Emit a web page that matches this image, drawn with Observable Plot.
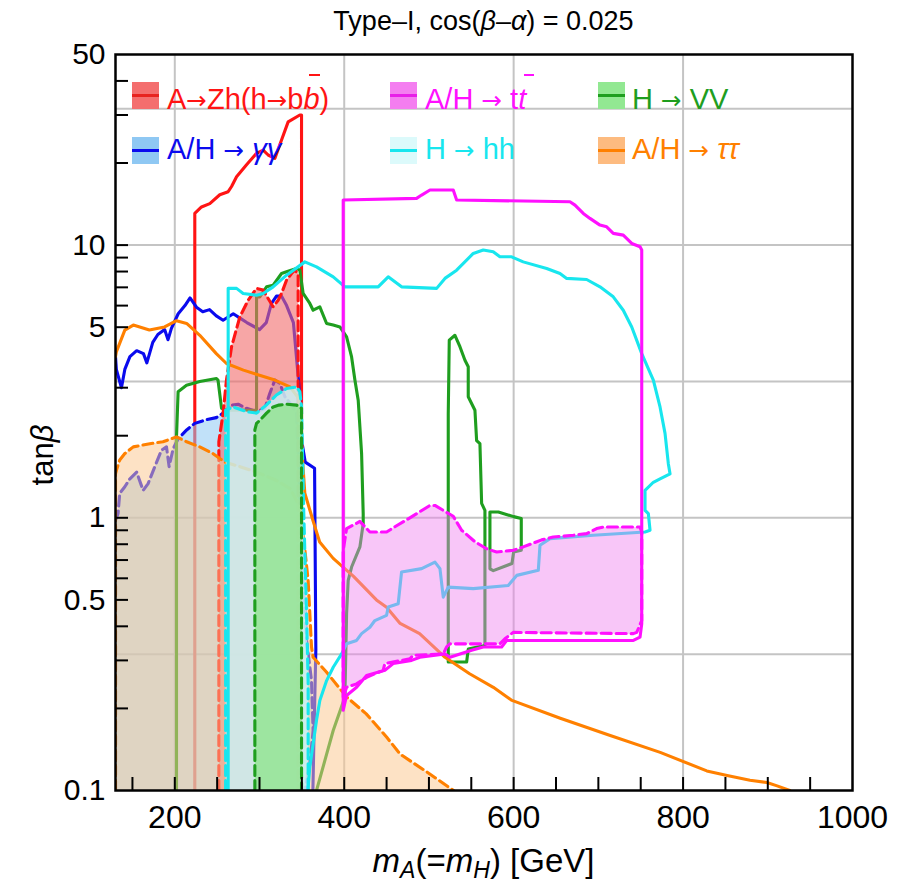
<!DOCTYPE html>
<html><head><meta charset="utf-8">
<script src="https://cdn.jsdelivr.net/npm/d3@7"></script>
<script src="https://cdn.jsdelivr.net/npm/@observablehq/plot@0.6"></script>
<style>
body{margin:0;background:#fff;}
#wrap{position:relative;width:907px;height:890px;font-family:"Liberation Sans",Arial,sans-serif;color:#000;}
#chart{position:absolute;left:0;top:0;}
.t{position:absolute;white-space:nowrap;line-height:1;}
#title{left:115px;width:737px;text-align:center;top:8px;font-size:27px;}
#xlab{left:115px;width:737px;text-align:center;top:844px;font-size:33px;}
#ylab{left:42px;top:455px;font-size:31px;transform:translate(-50%,-50%) rotate(-90deg);}
.sw{position:absolute;width:27px;height:27px;}
.sw i{position:absolute;left:0;right:0;top:12px;height:3px;}
.lt{position:absolute;font-size:29px;line-height:1;white-space:nowrap;}
.ar{font-family:"DejaVu Sans",sans-serif;font-size:0.85em;}
.bar{position:relative;font-style:italic;}
.bar::after{content:"";position:absolute;left:0.2em;width:0.36em;top:-0.3em;height:2px;background:currentColor;}
sub{font-size:70%;vertical-align:-0.25em;}
</style></head>
<body>
<div id="wrap">
  <div id="chart"></div>
  <div class="t" id="title">Type–I, cos(<i>β</i>–<i>α</i>) = 0.025</div>
  <div class="t" id="ylab">tan<i>β</i></div>
  <div class="t" id="xlab"><i>m</i><sub><i>A</i></sub>(=<i>m</i><sub><i>H</i></sub>) [GeV]</div>

  <div class="sw" style="left:132px;top:82px;background:#f46e6e"><i style="background:#e8231f"></i></div>
  <div class="lt" style="left:167px;top:85px;color:#ff1414">A<span class="ar">→</span>Zh(h<span class="ar">→</span>b<span class="bar">b</span>)</div>
  <div class="sw" style="left:132px;top:137px;background:#8fc8f3"><i style="background:#0a0aee"></i></div>
  <div class="lt" style="left:167px;top:135px;color:#0a0aee">A/H <span class="ar">→</span> <i>γγ</i></div>

  <div class="sw" style="left:390px;top:82px;background:#f47ef0"><i style="background:#e81ee8"></i></div>
  <div class="lt" style="left:425px;top:85px;color:#ff10ff">A/H <span class="ar">→</span> t<span class="bar">t</span></div>
  <div class="sw" style="left:390px;top:137px;background:#dcfafb"><i style="background:#18e6ee"></i></div>
  <div class="lt" style="left:425px;top:135px;color:#18e6ee">H <span class="ar">→</span> hh</div>

  <div class="sw" style="left:598px;top:82px;background:#92e892"><i style="background:#1f9e1f"></i></div>
  <div class="lt" style="left:632px;top:85px;color:#1f9e1f">H <span class="ar">→</span> VV</div>
  <div class="sw" style="left:598px;top:137px;background:#fdbb80"><i style="background:#ff8000"></i></div>
  <div class="lt" style="left:632px;top:135px;color:#ff8000">A/H <span class="ar">→</span> <i>ττ</i></div>
</div>
<script>
// ---- axis values ----
const xLabels = [200, 400, 600, 800, 1000];
const xMinor = [150,200,250,300,350,400,450,500,550,600,650,700,750,800,850,900,950];
const yLabels = [0.1, 0.5, 1, 5, 10, 50];
const yMinor = [0.2,0.3,0.4,0.5,0.6,0.7,0.8,0.9,1,2,3,5,6,7,8,9,10,20,30,40];
const xGrid = [200, 400, 600, 800];
const yGrid = [0.316, 1, 3.16, 10, 31.6];

// ---- A -> Zh (h -> bb) ----
const zhSolid = [[223.6,0.1],[223.6,13.07],[231.5,13.8],[241.3,14.2],[253.1,15.3],[263,15.7],[267,16.4],[272.9,17.8],[284.7,19.7],[296.5,21.7],[304.3,22.3],[310.2,21.4],[318.1,20.8],[326,24.3],[333.8,28.3],[347.6,30.0],[349.6,30.0],[349.6,0.1]];
const zhDashed = [[252,0.1],[252,1.9],[257,2.42],[261,3.2],[267,4.24],[276.8,5.46],[286.6,6.28],[296.5,6.94],[304.3,6.84],[310.2,6.37],[316.1,5.94],[322,6.28],[326,6.65],[331.9,7.44],[337.8,7.87],[341.7,8.09],[345.6,7.87],[345.6,0.1]];

// ---- A/H -> gamma gamma ----
const aaSolid = [[130,3.9],[131,3.5],[137,3.0],[141,3.5],[147,3.9],[155,4.1],[163,4.0],[167,3.7],[174,4.4],[180,4.7],[188,4.9],[192,4.5],[196,4.95],[204,5.6],[212,6.0],[218,6.4],[226,5.9],[233,5.7],[241,5.8],[249,5.5],[257,5.3],[269,5.6],[277,5.4],[285,5.2],[300,4.9],[308,5.2],[314,6.1],[320,6.5],[326,6.5],[332,6.0],[340,5.2],[346,3.2],[350,1.9],[354,1.6],[365,1.52],[366.5,0.33],[365,0.2],[363,0.1]];
const aaDashed = [[130,0.1],[130,0.98],[133,1.036],[135,1.23],[141,1.30],[147,1.39],[155,1.47],[162.6,1.26],[168.5,1.335],[176.4,1.54],[184.3,1.77],[190.2,1.82],[193.3,1.54],[198,1.79],[204,1.95],[214,2.10],[223.6,2.22],[237.4,2.29],[249,2.33],[257,2.42],[267,2.59],[274.8,2.61],[284.7,2.52],[296.5,2.45],[306.3,2.52],[312.2,2.86],[318.1,3.20],[324,3.11],[330,2.78],[337.8,2.59],[343.7,2.42],[347.6,1.19],[351.5,0.59],[355.5,0.355],[361.4,0.253],[363.3,0.166],[359.4,0.125],[353.5,0.1]];

// ---- A/H -> tau tau ----
const ttauSolid = [[130,3.9],[131,4.06],[141,4.88],[151,5.09],[170,4.88],[188,5.01],[202,5.28],[214,5.16],[229.5,4.67],[249,4.0],[261,3.68],[281,3.48],[300,3.33],[318,3.20],[336,3.02],[346,2.75],[349,2.2],[351,1.6],[353.5,1.23],[363,0.98],[371,0.815],[387,0.71],[411,0.61],[438,0.50],[450,0.47],[466,0.41],[489,0.376],[519,0.308],[548,0.268],[576,0.239],[598,0.214],[655,0.184],[714,0.159],[773,0.138],[828,0.118],[852,0.1135],[879,0.109],[899,0.107],[911,0.104],[926,0.1]];
const ttauDashed = [[130,0.1],[130,1.45],[131,1.49],[135,1.63],[141,1.72],[151,1.82],[170.5,1.87],[186,1.90],[202,1.98],[214,1.90],[229.5,1.82],[245,1.72],[259,1.60],[277,1.54],[296.5,1.47],[320,1.37],[336,1.28],[347.6,1.10],[351.5,0.875],[357.4,0.59],[361.4,0.336],[363.3,0.308],[379,0.272],[403,0.22],[426,0.191],[450,0.157],[466,0.136],[501,0.115],[529,0.1]];

// ---- H -> hh ----
const hhSolid = [[263,0.1],[263,6.95],[272.9,6.94],[280.7,6.65],[296.5,6.55],[304.3,6.65],[316.1,7.03],[331.9,7.76],[353.5,8.68],[367.3,8.32],[387,7.65],[400.8,7.03],[440.1,7.03],[451.9,7.65],[467.7,7.03],[509.1,6.94],[518.9,7.55],[532.7,8.09],[552.3,9.32],[564.1,9.59],[575.9,9.45],[583.8,9.06],[597.6,9.06],[611.3,8.68],[639,8.21],[654.7,7.87],[662.6,7.55],[686.2,7.48],[701.9,7.03],[717.6,6.46],[729.4,5.77],[739.4,5.01],[751.2,4.0],[764.9,3.20],[772.8,2.55],[778.7,2.04],[782.6,1.58],[784.6,1.45],[772.8,1.39],[764.9,1.35],[755.1,1.26],[755.1,1.065],[759,1.036],[761,0.90],[755.1,0.887],[694,0.863],[642.9,0.839],[631.1,0.793],[629.1,0.642],[603.6,0.615],[593.6,0.565],[552.3,0.55],[522.8,0.557],[516.9,0.512],[513,0.651],[507.1,0.688],[491.4,0.651],[467.7,0.633],[463.7,0.484],[451.9,0.471],[450,0.439],[436.2,0.42],[430.3,0.397],[420.5,0.376],[414.6,0.355],[402.8,0.345],[396.9,0.317],[387,0.283],[379.2,0.253],[371.2,0.214],[367.3,0.181],[359.4,0.122],[357.1,0.1]];
const hhDashed = [[260,0.1],[260,2.48],[269,2.55],[285,2.45],[296.5,2.42],[308,2.59],[320,2.82],[332,2.98],[344,3.02],[347.6,2.90],[349.6,2.55],[352.3,1.03],[355.5,0.45],[357.4,0.25],[357.4,0.1]];

// ---- H -> VV ----
const vvSolidA = [[202,0.1],[202,1.98],[203.9,2.90],[213.8,3.06],[229.5,3.16],[249.2,3.24],[251,3.2],[255.2,2.52],[261,2.48],[296.5,2.48],[296.5,6.46],[300.4,6.46],[308.3,7.03],[316.1,7.13],[326,7.87],[331.9,7.98],[343.7,8.21],[347.6,8.09],[351.5,6.65],[359.4,6.11],[363.3,5.77],[371.2,5.94],[379.2,5.16],[387,5.09],[394.9,5.01],[402.8,4.61],[408.7,3.89],[412.6,3.20],[416.5,2.70],[420.5,1.72],[422.4,1.036],[422.4,0.952],[418.5,0.782],[408.7,0.66],[404.7,0.59],[402.8,0.445],[400.8,0.22],[387,0.166],[367.3,0.1]];
const vvSolidB = [[522.8,0.296],[522.8,2.41],[524,4.48],[530.7,4.67],[536.6,4.24],[542.5,3.78],[546.4,3.58],[546.4,2.78],[554.3,2.48],[556.3,1.92],[560.2,1.87],[562.2,1.13],[566.1,1.065],[566.1,0.34],[546.4,0.33],[544.5,0.296],[522.8,0.296]];
const vvSolidC = [[572,1.04],[572,1.05],[582,1.05],[600,1.01],[609,0.994],[609,0.76],[600,0.75],[598,0.68],[576,0.64],[572,0.65],[572,1.04]];
const vvDashed = [[294.5,0.1],[294.5,2.1],[296.5,2.22],[300.4,2.28],[308.3,2.42],[316.1,2.55],[323,2.59],[332,2.61],[343.7,2.59],[349.6,2.52],[349.6,0.1]];

// ---- A/H -> t tbar ----
const ttSolid = [[398.8,0.197],[398.8,14.63],[485.4,14.84],[491.4,15.26],[501.2,15.92],[528.7,15.92],[532.7,14.63],[666.5,14.42],[672.4,14.02],[682.2,13.07],[690.1,12.53],[701.9,11.84],[709.8,11.67],[717.6,11.04],[729.4,10.88],[739.4,10.14],[749.2,9.86],[751.2,9.59],[751.2,0.409],[749.2,0.365],[741.3,0.355],[591.7,0.355],[585.8,0.336],[564.1,0.336],[550.4,0.327],[524.8,0.308],[518.9,0.317],[489.3,0.308],[479.5,0.30],[457.8,0.292],[448,0.276],[426.4,0.264],[414.6,0.239],[402.8,0.223],[398.8,0.197]];
const ttDashed = [[398.8,0.22],[398.8,0.76],[402.8,0.913],[418.5,0.97],[430.3,0.887],[450,0.887],[461.8,0.935],[477.5,1.0],[501.2,1.11],[507.1,1.11],[528.7,1.013],[538.6,0.90],[554.3,0.817],[568.1,0.77],[579.9,0.749],[599.5,0.76],[611.3,0.782],[633.1,0.83],[646.8,0.85],[670.4,0.863],[686.2,0.875],[698,0.913],[705.8,0.925],[749.2,0.925],[751.2,0.887],[751.2,0.42],[745.3,0.38],[741.3,0.376],[599.5,0.38],[589.7,0.36],[585.8,0.35],[583.8,0.345],[524.8,0.345],[520.9,0.336],[516.9,0.317],[481.4,0.313],[477.5,0.304],[448,0.292],[446,0.276],[426.4,0.26],[414.6,0.246],[402.8,0.239],[398.8,0.22]];

// ---- helpers ----
const W = 907, H = 890, ML = 115, MR = 55, MT = 54, MB = 100;
const dash = "10,5";
const fillPoly = (pts, color, op) => Plot.line(pts, {x: d => d[0], y: d => d[1], fill: color, fillOpacity: op, stroke: "none", curve: "linear", clip: true});
const linePoly = (pts, color, dashed) => Plot.line(pts, {x: d => d[0], y: d => d[1], stroke: color, strokeWidth: 3.1, strokeDasharray: dashed ? dash : null, strokeLinejoin: "round", curve: "linear", clip: true});

const C = {red: "#ff1414", blue: "#0a0aee", green: "#1f9e1f", cyan: "#18e6ee", orange: "#ff8000", magenta: "#ff10ff"};

const chart = Plot.plot({
  width: W, height: H,
  marginLeft: ML, marginRight: MR, marginTop: MT, marginBottom: MB,
  x: {type: "linear", domain: [130, 1000], axis: null},
  y: {type: "log", domain: [0.1, 50], axis: null},
  style: {fontFamily: '"Liberation Sans", Arial, sans-serif', background: "transparent", color: "#000"},
  marks: [
    Plot.gridX(xGrid, {stroke: "#c4c4c4", strokeOpacity: 1, strokeWidth: 2}),
    Plot.gridY(yGrid, {stroke: "#c4c4c4", strokeOpacity: 1, strokeWidth: 2}),

    linePoly(zhSolid, C.red, false),

    fillPoly(aaDashed, "#8ec8f4", 0.55),
    linePoly(aaDashed, C.blue, true),
    linePoly(aaSolid, C.blue, false),

    linePoly(vvSolidA, C.green, false),
    linePoly(vvSolidB, C.green, false),
    linePoly(vvSolidC, C.green, false),

    fillPoly(zhDashed, "#f26a6a", 0.6),
    linePoly(zhDashed, C.red, true),

    fillPoly(ttauDashed, "#fcc890", 0.52),
    linePoly(ttauDashed, C.orange, true),
    linePoly(ttauSolid, C.orange, false),

    fillPoly(hhDashed, "#c8f4f8", 0.8),
    linePoly(hhDashed, C.cyan, true),
    linePoly(hhSolid, C.cyan, false),

    fillPoly(vvDashed, "#94e494", 0.85),
    linePoly(vvDashed, C.green, true),

    fillPoly(ttDashed, "#f080f0", 0.45),
    linePoly(ttDashed, C.magenta, true),
    linePoly(ttSolid, C.magenta, false),

    Plot.ruleX(xMinor, {x: d => d, insetTop: (H - MT - MB) - 13, stroke: "#000", strokeWidth: 2}),
    Plot.ruleY(yMinor, {y: d => d, insetRight: (W - ML - MR) - 13, stroke: "#000", strokeWidth: 2}),
    Plot.text(xLabels, {x: d => d, text: d => String(d), frameAnchor: "bottom", lineAnchor: "top", dy: 15, fontSize: 32, fill: "#000"}),
    Plot.text(yLabels, {y: d => d, text: d => String(d), frameAnchor: "left", textAnchor: "end", dx: -10, fontSize: 30, fill: "#000"}),
    Plot.frame({stroke: "#000", strokeWidth: 2.5})
  ]
});
document.getElementById("chart").appendChild(chart);
</script>
</body></html>
